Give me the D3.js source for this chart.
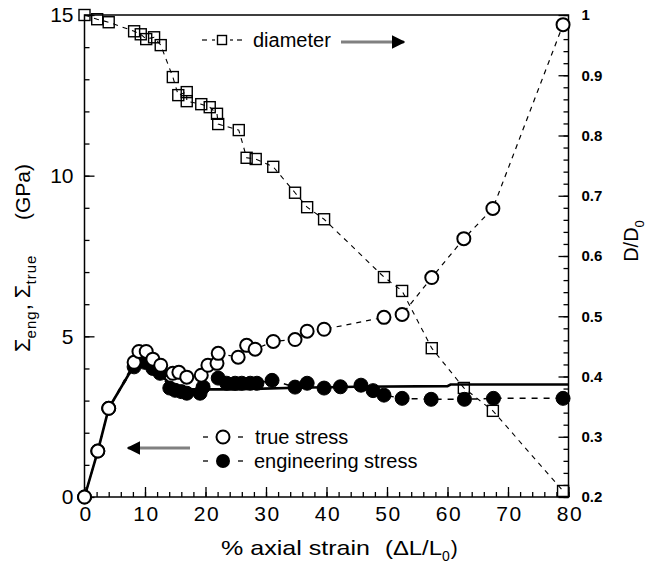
<!DOCTYPE html>
<html>
<head>
<meta charset="utf-8">
<script src="https://cdn.jsdelivr.net/npm/d3@7"></script>
<style>
  body { margin: 0; background: #fff; }
  svg { display: block; font-family: "Liberation Sans", Arial, sans-serif; }
</style>
</head>
<body>
<svg id="chart" width="650" height="565"></svg>
<script>
// ── Data ──────────────────────────────────────────────────────────────────
const diamStrain = [0, 2.1, 4.0, 8.2, 9.3, 10.2, 11.5, 12.6, 14.6, 15.5, 16.9, 16.9, 19.3, 20.7, 21.9, 22.1,
  25.5, 26.8, 28.3, 31.2, 34.8, 36.8, 39.6, 49.5, 52.5, 57.4, 62.7, 67.5, 79.1];
const diamRatio = [1.0, 0.993, 0.988, 0.973, 0.968, 0.960, 0.963, 0.950, 0.897, 0.867, 0.872, 0.857, 0.852, 0.847, 0.836, 0.819,
  0.809, 0.763, 0.761, 0.748, 0.705, 0.681, 0.661, 0.565, 0.542, 0.447, 0.381, 0.343, 0.210];

const trueStrain = [0, 2.2, 4.0, 8.2, 9.0, 10.2, 11.3, 12.6, 14.6, 15.6, 16.9, 19.3, 20.4, 21.9, 22.1,
  25.4, 26.8, 28.2, 31.2, 34.8, 36.8, 39.6, 49.5, 52.5, 57.4, 62.7, 67.5, 79.1];
const trueStress = [0, 1.43, 2.76, 4.19, 4.53, 4.53, 4.29, 4.10, 3.85, 3.88, 3.73, 3.79, 4.10, 4.16, 4.47,
  4.35, 4.72, 4.60, 4.84, 4.90, 5.16, 5.22, 5.59, 5.68, 6.83, 8.04, 8.98, 14.7];

const engStrain = [0, 2.2, 4.0, 8.2, 10.0, 11.3, 12.5, 14.1, 15.0, 16.0, 16.9, 19.1, 19.6, 22.1, 23.5, 24.9,
  26.0, 27.4, 28.5, 31.0, 34.8, 36.8, 39.6, 42.3, 45.7, 47.7, 49.5, 52.5, 57.3, 62.8, 67.6, 79.1];
const engStress = [0, 1.43, 2.76, 4.05, 4.19, 4.0, 3.85, 3.39, 3.32, 3.28, 3.23, 3.23, 3.42, 3.70, 3.54, 3.54,
  3.54, 3.54, 3.54, 3.63, 3.42, 3.54, 3.39, 3.43, 3.48, 3.31, 3.17, 3.07, 3.04, 3.04, 3.07, 3.07];

// solid guide line through the engineering stress
const fitStrain = [0, 2.2, 4.0, 8.2, 9.5, 12, 14.6, 17, 25, 35, 45, 60, 60.5, 80];
const fitStress = [0, 1.43, 2.76, 4.1, 4.25, 3.9, 3.45, 3.35, 3.35, 3.40, 3.43, 3.45, 3.5, 3.5];

const xMajor = [0, 10, 20, 30, 40, 50, 60, 70, 80];
const yLeftMajor = [0, 5, 10, 15];
const yRightMajor = [0.2, 0.3, 0.4, 0.5, 0.6, 0.7, 0.8, 0.9, 1];

// ── Layout ───────────────────────────────────────────────────────────────
const PLOT = { left: 84.5, right: 568.5, top: 15, bottom: 497 };
const svg = d3.select('#chart');

const x = d3.scaleLinear().domain([0, 80]).range([PLOT.left, PLOT.right]);
const yL = d3.scaleLinear().domain([0, 15]).range([PLOT.bottom, PLOT.top]);
const yR = d3.scaleLinear().domain([0.2, 1]).range([PLOT.bottom, PLOT.top]);

function styleAxis(sel, size, weight) {
  sel.select('.domain').remove();
  sel.selectAll('line').attr('stroke', '#000').attr('stroke-width', 1.3);
  sel.selectAll('text')
    .attr('fill', '#000')
    .attr('font-size', size + 'px')
    .attr('font-weight', weight || 'normal')
    .attr('font-family', '"Liberation Sans", Arial, sans-serif');
}

// minor ticks
svg.append('g').attr('transform', `translate(${PLOT.left},0)`)
  .call(d3.axisLeft(yL).tickValues(d3.range(0, 16, 1)).tickFormat('').tickSizeInner(-5).tickSizeOuter(0))
  .call(s => styleAxis(s, 1));
svg.append('g').attr('transform', `translate(0,${PLOT.bottom})`)
  .call(d3.axisBottom(x).tickValues(d3.range(0, 81, 2)).tickFormat('').tickSizeInner(-5).tickSizeOuter(0))
  .call(s => styleAxis(s, 1));
svg.append('g').attr('transform', `translate(${PLOT.right},0)`)
  .call(d3.axisRight(yR).tickValues(d3.range(0.2, 1.001, 0.02)).tickFormat('').tickSizeInner(-5).tickSizeOuter(0))
  .call(s => styleAxis(s, 1));

// major ticks + labels
svg.append('g').attr('transform', `translate(${PLOT.left},0)`)
  .call(d3.axisLeft(yL).tickValues(yLeftMajor).tickSizeInner(-10).tickSizeOuter(0).tickPadding(11))
  .call(s => styleAxis(s, 21));
svg.append('g').attr('transform', `translate(0,${PLOT.bottom})`)
  .call(d3.axisBottom(x).tickValues(xMajor).tickSizeInner(-10).tickSizeOuter(0).tickPadding(9))
  .call(s => styleAxis(s, 21))
  .call(s => s.selectAll('text').attr('letter-spacing', 1.5).attr('dx', 1));
svg.append('g').attr('transform', `translate(${PLOT.right},0)`)
  .call(d3.axisRight(yR).tickValues(yRightMajor).tickSizeInner(-10).tickSizeOuter(0).tickPadding(13)
    .tickFormat(d => d === 1 ? '1' : d.toFixed(1)))
  .call(s => styleAxis(s, 15, 'bold'));

// frame
svg.append('rect')
  .attr('x', PLOT.left).attr('y', PLOT.top)
  .attr('width', PLOT.right - PLOT.left).attr('height', PLOT.bottom - PLOT.top)
  .attr('fill', 'none').attr('stroke', '#000').attr('stroke-width', 1.5);

// ── Series ───────────────────────────────────────────────────────────────
const zip = (a, b) => a.map((v, i) => [v, b[i]]);
const diamPts = zip(diamStrain, diamRatio);
const truePts = zip(trueStrain, trueStress);
const engPts = zip(engStrain, engStress);
const fitPts = zip(fitStrain, fitStress);

const lineL = d3.line().x(d => x(d[0])).y(d => yL(d[1]));
const lineR = d3.line().x(d => x(d[0])).y(d => yR(d[1]));

svg.append('path').datum(diamPts).attr('d', lineR)
  .attr('fill', 'none').attr('stroke', '#000').attr('stroke-width', 1.1).attr('stroke-dasharray', '5,5');
svg.append('path').datum(truePts).attr('d', lineL)
  .attr('fill', 'none').attr('stroke', '#000').attr('stroke-width', 1.2).attr('stroke-dasharray', '5,5');
svg.append('path').datum(engPts).attr('d', lineL)
  .attr('fill', 'none').attr('stroke', '#000').attr('stroke-width', 1.5).attr('stroke-dasharray', '6,6');
svg.append('path').datum(fitPts).attr('d', lineL)
  .attr('fill', 'none').attr('stroke', '#000').attr('stroke-width', 2.6);

// markers
const SQ = 11;
svg.append('g').selectAll('rect').data(diamPts).join('rect')
  .attr('x', d => x(d[0]) - SQ / 2).attr('y', d => yR(d[1]) - SQ / 2)
  .attr('width', SQ).attr('height', SQ)
  .attr('fill', 'none').attr('stroke', '#000').attr('stroke-width', 1.4);

svg.append('g').selectAll('circle').data(engPts).join('circle')
  .attr('cx', d => x(d[0])).attr('cy', d => yL(d[1])).attr('r', 7)
  .attr('fill', '#000').attr('stroke', '#000').attr('stroke-width', 1);

svg.append('g').selectAll('circle').data(truePts).join('circle')
  .attr('cx', d => x(d[0])).attr('cy', d => yL(d[1])).attr('r', 6.5)
  .attr('fill', '#fff').attr('stroke', '#000').attr('stroke-width', 2);

// ── Legends & arrows ─────────────────────────────────────────────────────
const defs = svg.append('defs');
defs.append('marker').attr('id', 'head').attr('viewBox', '0 0 10 10')
  .attr('refX', 9).attr('refY', 5).attr('markerWidth', 4.5).attr('markerHeight', 4.5)
  .attr('markerUnits', 'strokeWidth').attr('orient', 'auto')
  .append('path').attr('d', 'M0,0 L10,5 L0,10 z').attr('fill', '#000');

function arrow(x1, x2, y) {
  svg.append('line').attr('x1', x1).attr('x2', x2).attr('y1', y).attr('y2', y)
    .attr('stroke', '#808080').attr('stroke-width', 3).attr('marker-end', 'url(#head)');
}

function legendDash(cx, y) {
  svg.append('line').attr('x1', cx - 20).attr('x2', cx - 15).attr('y1', y).attr('y2', y)
    .attr('stroke', '#000').attr('stroke-width', 1.3);
  svg.append('line').attr('x1', cx + 15).attr('x2', cx + 20).attr('y1', y).attr('y2', y)
    .attr('stroke', '#000').attr('stroke-width', 1.3);
}

// diameter legend (top)
[[202, 207], [212, 215], [230, 233], [237, 242]].forEach(([a, b]) => {
  svg.append('line').attr('x1', a).attr('x2', b).attr('y1', 40).attr('y2', 40)
    .attr('stroke', '#000').attr('stroke-width', 1.2);
});
svg.append('rect').attr('x', 222 - 4.5).attr('y', 40 - 4.5).attr('width', 9).attr('height', 9)
  .attr('fill', 'none').attr('stroke', '#000').attr('stroke-width', 1.4);
svg.append('text').attr('x', 253).attr('y', 47).attr('font-size', '20px').text('diameter');
arrow(341, 404, 42);

// stress legend (bottom)
legendDash(223, 437);
svg.append('circle').attr('cx', 223).attr('cy', 437).attr('r', 6.5)
  .attr('fill', '#fff').attr('stroke', '#000').attr('stroke-width', 2);
svg.append('text').attr('x', 255).attr('y', 444).attr('font-size', '20px').text('true stress');

legendDash(223, 461);
svg.append('circle').attr('cx', 223).attr('cy', 461).attr('r', 7).attr('fill', '#000');
svg.append('text').attr('x', 254).attr('y', 468).attr('font-size', '20px').text('engineering stress');

arrow(190, 128, 448);

// ── Axis titles ──────────────────────────────────────────────────────────
const xt = svg.append('text').attr('y', 555).attr('font-size', '21px');
xt.append('tspan').attr('x', 221).attr('textLength', 149).attr('lengthAdjust', 'spacingAndGlyphs').text('% axial strain');
xt.append('tspan').attr('x', 385).attr('textLength', 57).attr('lengthAdjust', 'spacingAndGlyphs').text('(ΔL/L');
xt.append('tspan').attr('font-size', '14px').attr('dy', 6).text('0');
xt.append('tspan').attr('dy', -6).attr('dx', 1).text(')');

const yt = svg.append('text').attr('transform', 'translate(30,352) rotate(-90)')
  .attr('font-size', '22px');
yt.append('tspan').text('Σ');
yt.append('tspan').attr('font-size', '15px').attr('dy', 6).attr('letter-spacing', 1).text('eng');
yt.append('tspan').attr('dy', -6).text(', Σ');
yt.append('tspan').attr('font-size', '15px').attr('dy', 6).attr('letter-spacing', 1).text('true');
yt.append('tspan').attr('dy', -6).attr('x', 132).attr('font-size', '21px').text('(GPa)');

const rt = svg.append('text').attr('transform', 'translate(638,241) rotate(-90)')
  .attr('text-anchor', 'middle').attr('font-size', '20px');
rt.append('tspan').text('D/D');
rt.append('tspan').attr('font-size', '13px').attr('dy', 6).text('0');
</script>
</body>
</html>
